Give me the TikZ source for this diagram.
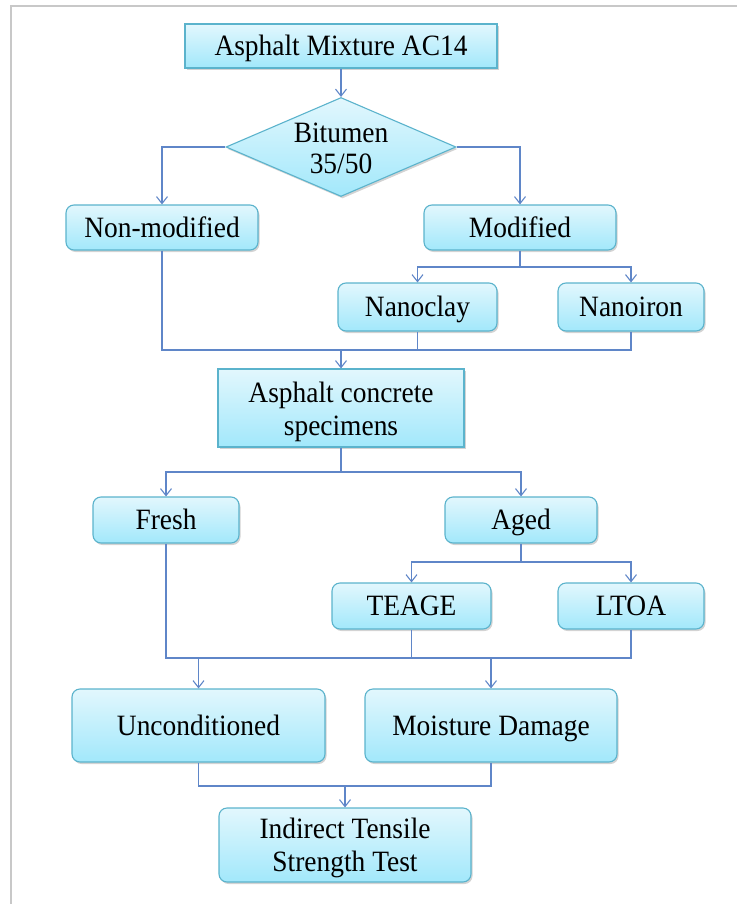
\documentclass[tikz,border=0pt]{standalone}
\usepackage{fontspec}
\setmainfont{Liberation Serif}[FakeStretch=0.93]
\usetikzlibrary{arrows.meta,shapes.geometric,shadows}
\definecolor{boxtop}{HTML}{E2F7FD}
\definecolor{boxbot}{HTML}{A2E8FB}
\definecolor{boxline}{HTML}{5BB3CC}
\definecolor{conn}{HTML}{5F86C8}
\definecolor{framec}{HTML}{C8C8C8}
\tikzset{
  basebox/.style={draw=boxline, line width=1.1pt, top color=boxtop, bottom color=boxbot,
    drop shadow={shadow xshift=1.5pt, shadow yshift=-2pt, opacity=0.35, fill=gray},
    align=center, inner sep=0pt, font=\fontsize{29.5}{33}\selectfont,
    text height=22pt, text depth=3pt},
  sqbox/.style={basebox, rectangle},
  rbox/.style={basebox, rectangle, rounded corners=8pt},
  dbox/.style={basebox, diamond},
  txt/.style={align=center, inner sep=0pt, font=\fontsize{29.5}{33}\selectfont},
  conline/.style={draw=conn, line width=1.2pt},
  arr/.style={conline, -{Straight Barb[length=7pt,width=11pt,line width=1.1pt]}},
}
\begin{document}
\begin{tikzpicture}[x=1pt,y=-1pt]
\useasboundingbox (0,0) rectangle (737,904);
\draw[framec, line width=1.5pt] (11,904) -- (11,6) -- (737,6);

\node[sqbox, minimum width=312pt, minimum height=44pt] (ac14) at (341,46) {Asphalt Mixture AC14};
\node[dbox, minimum width=230pt, minimum height=99pt] (bitumen) at (341,147) {};
\node[txt, font=\fontsize{29.5}{31}\selectfont] (bitumentext) at (341,148) {Bitumen\\35/50};
\node[rbox, minimum width=192pt, minimum height=45pt] (nonmod) at (162,227.5) {Non-modified};
\node[rbox, minimum width=192pt, minimum height=45pt] (mod) at (520,227.5) {Modified};
\node[rbox, minimum width=159pt, minimum height=48pt] (nanoclay) at (417.5,307) {Nanoclay};
\node[rbox, minimum width=146pt, minimum height=48pt] (nanoiron) at (631,307) {Nanoiron};
\node[sqbox, minimum width=246pt, minimum height=78pt] (acs) at (341,408) {};
\node[txt] (acstext) at (341,411.5) {Asphalt concrete\\specimens};
\node[rbox, minimum width=146pt, minimum height=46pt] (fresh) at (166,520) {Fresh};
\node[rbox, minimum width=152pt, minimum height=46pt] (aged) at (521,520) {Aged};
\node[rbox, minimum width=159pt, minimum height=46pt] (teage) at (411.5,606) {TEAGE};
\node[rbox, minimum width=146pt, minimum height=46pt] (ltoa) at (631,606) {LTOA};
\node[rbox, minimum width=253pt, minimum height=73pt] (uncond) at (198.5,725.5) {Unconditioned};
\node[rbox, minimum width=252pt, minimum height=73pt] (moist) at (491,725.5) {Moisture Damage};
\node[rbox, minimum width=252pt, minimum height=74pt] (itst) at (345,845) {};
\node[txt] (itsttext) at (345,847.5) {Indirect Tensile\\Strength Test};

\coordinate (j1) at (520,267);
\coordinate (j2) at (341,350);
\coordinate (j3) at (341,472);
\coordinate (j4) at (521,562);
\coordinate (j5) at (345,658);
\coordinate (j6) at (345,786);

\draw[arr] (ac14.south) -- (bitumen.north);
\draw[arr] (bitumen.west) -| (nonmod.north);
\draw[arr] (bitumen.east) -| (mod.north);
\draw[conline] (mod.south) -- (j1);
\draw[arr] (j1) -| (nanoclay.north);
\draw[arr] (j1) -| (nanoiron.north);
\draw[conline] (nonmod.south) |- (j2);
\draw[conline] (nanoclay.south) |- (j2);
\draw[conline] (nanoiron.south) |- (j2);
\draw[arr] (j2) -- (acs.north);
\draw[conline] (acs.south) -- (j3);
\draw[arr] (j3) -| (fresh.north);
\draw[arr] (j3) -| (aged.north);
\draw[conline] (aged.south) -- (j4);
\draw[arr] (j4) -| (teage.north);
\draw[arr] (j4) -| (ltoa.north);
\draw[conline] (fresh.south) |- (j5);
\draw[conline] (teage.south) |- (j5);
\draw[conline] (ltoa.south) |- (j5);
\draw[arr] (j5) -| (uncond.north);
\draw[arr] (j5) -| (moist.north);
\draw[conline] (uncond.south) |- (j6);
\draw[conline] (moist.south) |- (j6);
\draw[arr] (j6) -- (itst.north);
\end{tikzpicture}
\end{document}
